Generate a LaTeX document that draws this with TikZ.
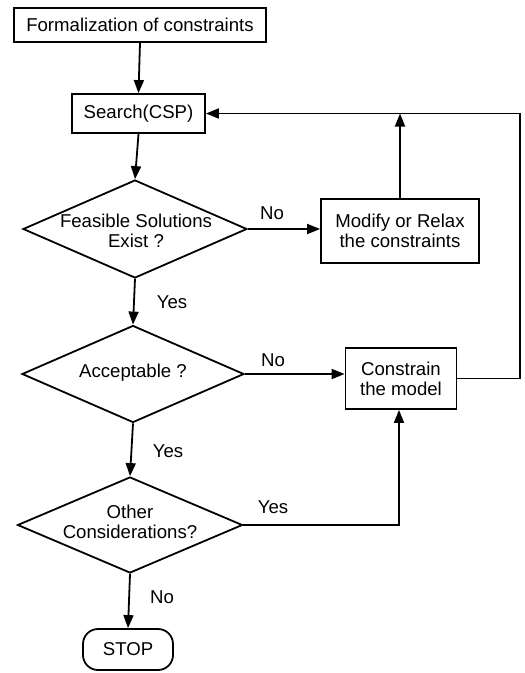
\documentclass[tikz,border=0pt]{standalone}
\usepackage{fontspec}
\setmainfont{Liberation Sans}
\usetikzlibrary{shapes.geometric,arrows.meta}
\begin{document}
\begin{tikzpicture}[x=1pt,y=-1pt,
  every node/.style={font=\fontsize{18.6}{20}\selectfont},
  box/.style={draw,line width=1.8pt,inner sep=0pt,align=center},
  dia/.style={draw,diamond,line width=1.8pt,inner sep=0pt},
  dtext/.style={align=center,inner sep=0pt},
  lbl/.style={inner sep=0pt},
  conn/.style={line width=1.8pt},
  arr/.style={conn,-{Triangle[length=13pt,width=10pt]}}]
\useasboundingbox (0,0) rectangle (525,673);
\fill[white] (0,0) rectangle (525,673);
% nodes
\node[box,minimum width=252pt,minimum height=34pt] (form) at (140,25) {Formalization of constraints};
\node[box,minimum width=133pt,minimum height=39pt] (search) at (138.5,113.5) {Search(CSP)};
\node[dia,minimum width=224pt,minimum height=98pt] (d1) at (135,229) {};
\node[dtext] (d1t) at (136,231) {Feasible Solutions\\Exist ?};
\node[box,minimum width=158pt,minimum height=64pt] (mod) at (400,231) {Modify or Relax\\the constraints};
\node[dia,minimum width=222pt,minimum height=97pt] (d2) at (133,374) {};
\node[dtext] (d2t) at (133,373) {Acceptable ?};
\node[box,minimum width=111pt,minimum height=61pt] (con) at (401,378.5) {Constrain\\the model};
\node[dia,minimum width=225pt,minimum height=96pt] (d3) at (130,525) {};
\node[dtext] (d3t) at (130,522) {Other\\Considerations?};
\node[box,rounded corners=15pt,minimum width=90pt,minimum height=41pt] (stop) at (128,649.5) {STOP};
\coordinate (tr) at (520,113.5);
\coordinate (br) at (520,378.5);
\coordinate (bc) at (399,525);
% connectors
\draw[arr] (form.south) -- (search.north);
\draw[arr] (search.south) -- (d1.north);
\draw[arr] (d1.south) -- (d2.north);
\draw[arr] (d2.south) -- (d3.north);
\draw[arr] (d3.south) -- (stop.north);
\draw[arr] (d1.east) -- (mod.west |- d1.east);
\draw[arr] (d2.east) -- (con.west |- d2.east);
\draw[arr] (con.east) -- (br) -- (tr) -- (search.east);
\draw[arr] (mod.north) -- (mod.north |- tr);
\draw[arr] (d3.east) -- (bc) -- (bc |- con.south);
% labels
\node[lbl] (l1) at (272,213) {No};
\node[lbl] (l2) at (172,302) {Yes};
\node[lbl] (l3) at (273,360) {No};
\node[lbl] (l4) at (168,451) {Yes};
\node[lbl] (l5) at (273,507) {Yes};
\node[lbl] (l6) at (162,597) {No};
\end{tikzpicture}
\end{document}
